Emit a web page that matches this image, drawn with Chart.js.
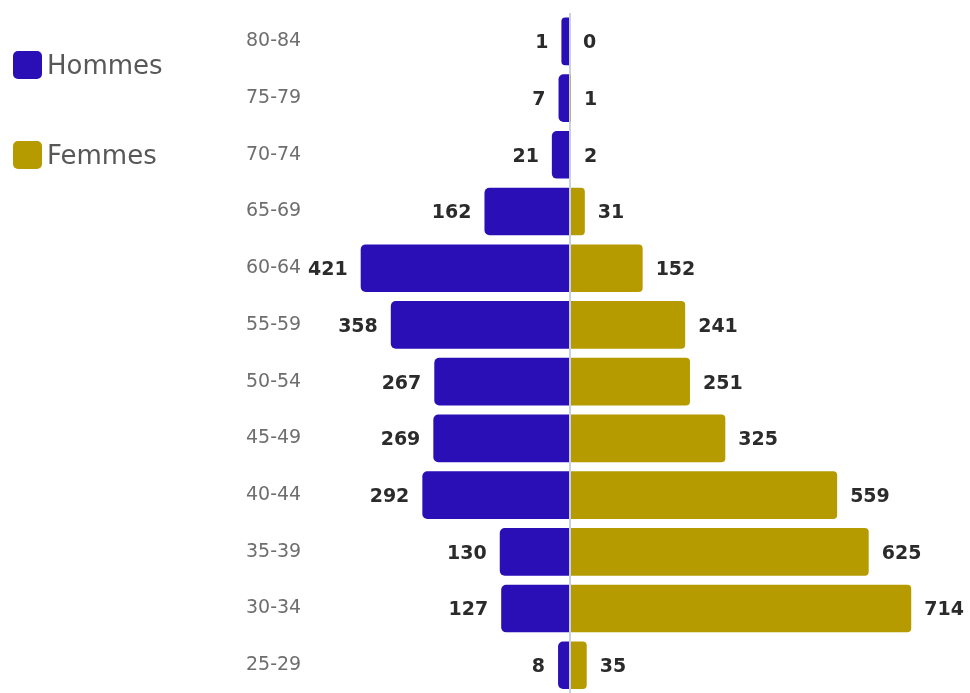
<!DOCTYPE html>
<html lang="fr">
<head>
<meta charset="utf-8">
<title>Pyramide des âges</title>
<script src="https://cdn.jsdelivr.net/npm/chart.js@4/dist/chart.umd.min.js"></script>
<style>
  html, body { margin: 0; padding: 0; background: #fff; overflow: hidden; }
  .wrap { position: relative; width: 970px; height: 705px; }
  #pyr { position: absolute; left: 0; top: 0; }
  .legend { position: absolute; left: 13px; top: 51px; font-family: "DejaVu Sans", sans-serif; font-size: 26px; color: #585858; }
  .legend .item { display: flex; align-items: center; height: 28px; margin-bottom: 62px; }
  .legend .box { width: 29px; height: 28px; border-radius: 5px; margin-right: 5px; }
</style>
</head>
<body>
<div class="wrap">
  <canvas id="pyr" width="970" height="705"></canvas>
  <div class="legend" id="legend"></div>
</div>
<script>
/* Pyramide des âges — Hommes à gauche, Femmes à droite */
const ageGroups = ['80-84', '75-79', '70-74', '65-69', '60-64', '55-59',
                   '50-54', '45-49', '40-44', '35-39', '30-34', '25-29'];
const hommes = [1, 7, 21, 162, 421, 358, 267, 269, 292, 130, 127, 8];
const femmes = [0, 1, 2, 31, 152, 241, 251, 325, 559, 625, 714, 35];

const BLUE = '#2a0fb6';
const GOLD = '#b59a00';
// the men's bars carry a small rounded cap beyond their value
const CAP = 17;

const valueLabels = {
  id: 'valueLabels',
  afterDatasetsDraw(chart) {
    const { ctx } = chart;
    ctx.save();
    ctx.font = 'bold 19px "DejaVu Sans", sans-serif';
    ctx.fillStyle = '#2b2b2b';
    ctx.textBaseline = 'middle';
    chart.getDatasetMeta(0).data.forEach((bar, i) => {
      const left = Math.min(bar.x, bar.base);
      ctx.textAlign = 'right';
      ctx.fillText(String(hommes[i]), left - 13, bar.y + 2);
    });
    chart.getDatasetMeta(1).data.forEach((bar, i) => {
      const right = Math.max(bar.x, bar.base);
      ctx.textAlign = 'left';
      ctx.fillText(String(femmes[i]), right + 13, bar.y + 2);
    });
    ctx.restore();
  },
};

const chart = new Chart(document.getElementById('pyr').getContext('2d'), {
  type: 'bar',
  data: {
    labels: ageGroups,
    datasets: [
      { label: 'Hommes', data: hommes.map((v) => [-(v + CAP), 0]),
        backgroundColor: BLUE, borderRadius: 5, borderSkipped: 'left',
        grouped: false, barPercentage: 0.84, categoryPercentage: 1 },
      { label: 'Femmes', data: femmes,
        backgroundColor: GOLD, borderRadius: 4, borderSkipped: 'left',
        grouped: false, barPercentage: 0.84, categoryPercentage: 1 },
    ],
  },
  options: {
    indexAxis: 'y',
    responsive: false,
    animation: false,
    layout: { padding: { left: 246, right: 0, top: 13, bottom: 5 } },
    plugins: { legend: { display: false }, tooltip: { enabled: false } },
    scales: {
      x: {
        min: -678, max: 837,
        ticks: { display: false, stepSize: 100 },
        border: { display: false },
        grid: {
          drawTicks: false, lineWidth: 2,
          color: (c) => (c.tick && c.tick.value === 0 ? '#c9d0e2' : 'rgba(0,0,0,0)'),
        },
      },
      y: {
        border: { display: false },
        grid: { display: false, drawTicks: false },
        ticks: {
          mirror: true, padding: 0, color: '#6e6e6e',
          font: { family: '"DejaVu Sans", sans-serif', size: 19 },
        },
      },
    },
  },
  plugins: [valueLabels],
});

// HTML legend built from the datasets
const legendEl = document.getElementById('legend');
chart.data.datasets.forEach((ds) => {
  const item = document.createElement('div');
  item.className = 'item';
  const box = document.createElement('span');
  box.className = 'box';
  box.style.background = ds.backgroundColor;
  const txt = document.createElement('span');
  txt.textContent = ds.label;
  item.appendChild(box);
  item.appendChild(txt);
  legendEl.appendChild(item);
});
</script>
</body>
</html>
